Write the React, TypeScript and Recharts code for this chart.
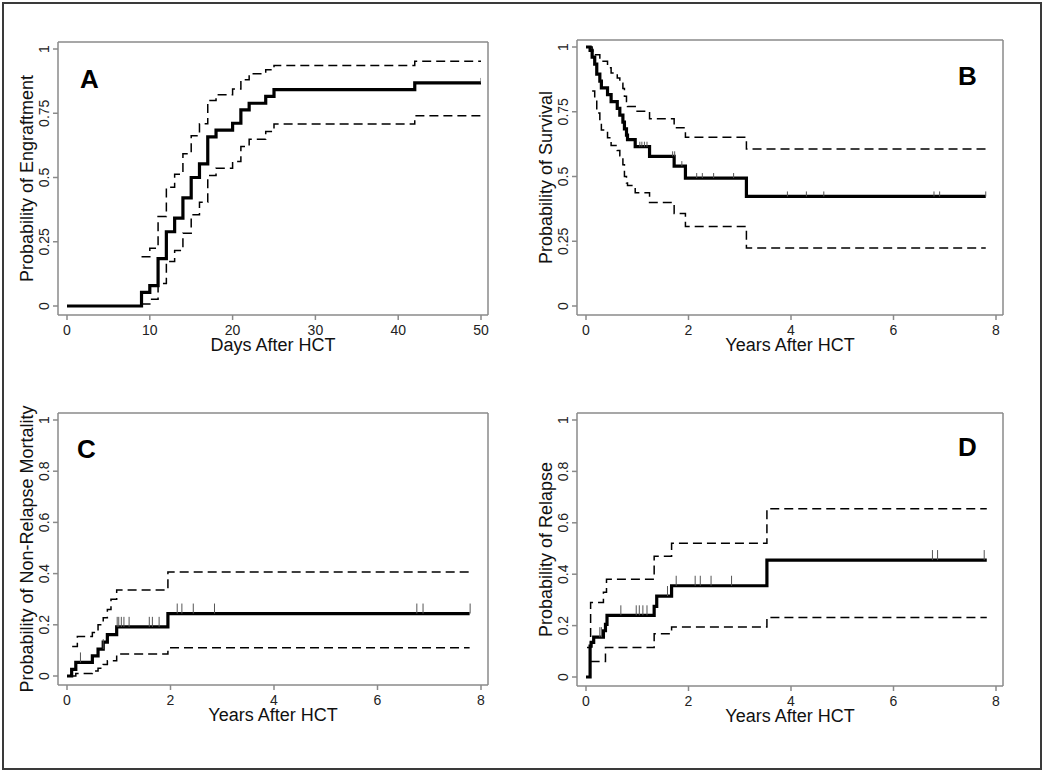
import { ComposedChart, Line, Scatter, XAxis, YAxis } from "recharts";

const FONT = "'Liberation Sans', Arial, Helvetica, sans-serif";
const AXIS = { stroke: "#8a8a8a", strokeWidth: 1.5 };
const X_PAD = { left: 9, right: 7 };
const Y_PAD = { top: 7, bottom: 9 };

type Pt = [number, number];

// A: engraftment (days)
const engraftEst: Pt[] = [
  [0, 0], [9, 0.053], [10, 0.079], [11, 0.184], [12, 0.289], [13, 0.342], [14, 0.421],
  [15, 0.5], [16, 0.553], [17, 0.658], [18, 0.684], [20, 0.711], [21, 0.763], [22, 0.789],
  [24, 0.816], [25, 0.842], [42, 0.868], [50, 0.868],
];
const engraftHi: Pt[] = [
  [9, 0.192], [10, 0.225], [11, 0.348], [12, 0.462], [13, 0.513], [14, 0.592], [15, 0.662],
  [16, 0.709], [17, 0.8], [18, 0.822], [20, 0.844], [21, 0.88], [22, 0.904], [24, 0.919],
  [25, 0.936], [42, 0.952], [50, 0.952],
];
const engraftLo: Pt[] = [
  [9, 0.008], [10, 0.026], [11, 0.088], [12, 0.173], [13, 0.216], [14, 0.283], [15, 0.355],
  [16, 0.404], [17, 0.508], [18, 0.536], [20, 0.562], [21, 0.621], [22, 0.649], [24, 0.679],
  [25, 0.708], [42, 0.74], [50, 0.74],
];
const engraftCens: Pt[] = [[50, 0.868]];

// B: survival (years)
const survEst: Pt[] = [
  [0, 1], [0.08, 0.987], [0.12, 0.961], [0.17, 0.934], [0.21, 0.895], [0.27, 0.868], [0.3, 0.842],
  [0.42, 0.816], [0.49, 0.789], [0.61, 0.763], [0.66, 0.737], [0.72, 0.71], [0.75, 0.684],
  [0.79, 0.66], [0.81, 0.642], [0.96, 0.615], [1.24, 0.578], [1.72, 0.54], [1.94, 0.494],
  [3.13, 0.423], [7.8, 0.423],
];
const survHi: Pt[] = [
  [0.05, 1], [0.12, 0.985], [0.17, 0.97], [0.27, 0.945], [0.42, 0.92], [0.49, 0.9], [0.61, 0.88],
  [0.66, 0.86], [0.72, 0.84], [0.75, 0.81], [0.79, 0.79], [0.81, 0.77], [0.96, 0.752],
  [1.24, 0.723], [1.72, 0.688], [1.94, 0.652], [3.13, 0.606], [7.8, 0.606],
];
const survLo: Pt[] = [
  [0.12, 0.83], [0.17, 0.8], [0.21, 0.745], [0.27, 0.71], [0.3, 0.68], [0.42, 0.65], [0.49, 0.62],
  [0.61, 0.6], [0.66, 0.58], [0.72, 0.545], [0.75, 0.5], [0.79, 0.475], [0.81, 0.465],
  [0.96, 0.437], [1.24, 0.4], [1.72, 0.357], [1.94, 0.307], [3.13, 0.224], [7.8, 0.224],
];
const survCens: Pt[] = [
  [1.05, 0.615], [1.09, 0.615], [1.14, 0.615], [1.19, 0.615], [1.69, 0.578], [1.73, 0.578],
  [1.87, 0.54], [2.16, 0.494], [2.27, 0.494], [2.49, 0.494], [2.88, 0.494], [3.93, 0.423],
  [4.3, 0.423], [4.64, 0.423], [6.79, 0.423], [6.9, 0.423], [7.8, 0.423],
];

// C: non-relapse mortality
const nrmEst: Pt[] = [
  [0, 0], [0.09, 0.026], [0.17, 0.053], [0.49, 0.079], [0.6, 0.105], [0.7, 0.132],
  [0.78, 0.162], [0.96, 0.192], [1.95, 0.244], [7.78, 0.244],
];
const nrmHi: Pt[] = [
  [0.1, 0.115], [0.2, 0.154], [0.49, 0.17], [0.6, 0.2], [0.7, 0.228], [0.78, 0.26],
  [0.85, 0.3], [0.96, 0.336], [1.95, 0.406], [7.78, 0.406],
];
const nrmLo: Pt[] = [
  [0.1, 0.0], [0.17, 0.01], [0.49, 0.02], [0.6, 0.03], [0.7, 0.045], [0.78, 0.06],
  [0.96, 0.086], [1.95, 0.11], [7.78, 0.11],
];
const nrmCens: Pt[] = [
  [0.26, 0.053], [0.7, 0.105], [0.97, 0.192], [1.0, 0.192], [1.05, 0.192], [1.1, 0.192],
  [1.2, 0.192], [1.59, 0.192], [1.65, 0.192], [1.78, 0.192], [2.13, 0.244], [2.22, 0.244],
  [2.44, 0.244], [2.85, 0.244], [6.76, 0.244], [6.88, 0.244], [7.79, 0.244],
];

// D: relapse
const relEst: Pt[] = [
  [0, 0], [0.08, 0.12], [0.1, 0.135], [0.15, 0.155], [0.34, 0.18], [0.38, 0.205], [0.41, 0.24],
  [1.33, 0.275], [1.38, 0.315], [1.67, 0.355], [3.53, 0.455], [7.82, 0.455],
];
const relHi: Pt[] = [
  [0.02, 0.115], [0.09, 0.29], [0.34, 0.33], [0.4, 0.38], [1.33, 0.47], [1.67, 0.52],
  [3.53, 0.655], [7.82, 0.655],
];
const relLo: Pt[] = [
  [0.09, 0.06], [0.38, 0.115], [1.33, 0.168], [1.67, 0.195], [3.53, 0.232], [7.82, 0.232],
];
const relCens: Pt[] = [
  [0.27, 0.155], [0.3, 0.155], [0.68, 0.24], [0.98, 0.24], [1.04, 0.24], [1.11, 0.24],
  [1.19, 0.24], [1.59, 0.315], [1.76, 0.355], [2.13, 0.355], [2.23, 0.355], [2.44, 0.355],
  [2.84, 0.355], [6.76, 0.455], [6.86, 0.455], [7.77, 0.455],
];

const quarterTicks = [0, 0.25, 0.5, 0.75, 1];
const fifthTicks = [0, 0.2, 0.4, 0.6, 0.8, 1];
const dayTicks = [0, 10, 20, 30, 40, 50];
const yearTicks = [0, 2, 4, 6, 8];

const toRows = (pts: Pt[]) => pts.map(([t, v]) => ({ t, v }));

function YTick(props: any) {
  const { x, y, payload } = props;
  return (
    <text
      x={x}
      y={y}
      transform={`rotate(-90 ${x} ${y})`}
      textAnchor="middle"
      fontSize={14}
      fontFamily={FONT}
      fill="#222"
    >
      {String(payload.value)}
    </text>
  );
}

const censorMark = (h: number) => (props: any) => (
  <line
    x1={props.cx}
    x2={props.cx}
    y1={props.cy}
    y2={props.cy - h}
    stroke="#555"
    strokeWidth={1}
  />
);

interface PanelProps {
  left: number;
  top: number;
  height: number;
  margin: { top: number; right: number; bottom: number; left: number };
  xDomain: [number, number];
  xTicks: number[];
  yTicks: number[];
  xTitle: string;
  yTitle: string;
  est: Pt[];
  hi: Pt[];
  lo: Pt[];
  cens: Pt[];
  censH: number;
}

function Panel(p: PanelProps) {
  return (
    <div style={{ position: "absolute", left: p.left, top: p.top }}>
      <ComposedChart width={520} height={p.height} margin={p.margin}>
        <XAxis
          dataKey="t"
          type="number"
          domain={p.xDomain}
          ticks={p.xTicks}
          interval={0}
          allowDataOverflow
          padding={X_PAD}
          axisLine={AXIS}
          tickLine={AXIS}
          tickSize={5}
          tickMargin={5}
          tick={{ fontSize: 14, fill: "#222", fontFamily: FONT }}
          height={55}
          label={{
            value: p.xTitle,
            position: "insideBottom",
            offset: 19,
            fontSize: 18,
            fill: "#111",
            fontFamily: FONT,
          }}
        />
        <YAxis
          type="number"
          domain={[0, 1]}
          ticks={p.yTicks}
          interval={0}
          padding={Y_PAD}
          width={58}
          axisLine={AXIS}
          tickLine={AXIS}
          tickSize={5}
          tickMargin={4}
          tick={<YTick />}
          label={{
            value: p.yTitle,
            angle: -90,
            position: "insideLeft",
            offset: 27,
            style: { textAnchor: "middle" },
            fontSize: 18,
            fill: "#111",
            fontFamily: FONT,
          }}
        />
        {/* top and right edges of the plot box */}
        <XAxis
          xAxisId="top"
          dataKey="t"
          orientation="top"
          type="number"
          domain={p.xDomain}
          allowDataOverflow
          padding={X_PAD}
          tick={false}
          tickLine={false}
          height={1}
          axisLine={AXIS}
        />
        <YAxis
          yAxisId="right"
          orientation="right"
          type="number"
          domain={[0, 1]}
          padding={Y_PAD}
          tick={false}
          tickLine={false}
          width={1}
          axisLine={AXIS}
        />
        <Line
          xAxisId="top"
          yAxisId="right"
          data={toRows(p.hi)}
          dataKey="v"
          type="stepAfter"
          stroke="#000"
          strokeWidth={1.5}
          strokeDasharray="9 5"
          dot={false}
          activeDot={false}
          isAnimationActive={false}
        />
        <Line
          data={toRows(p.lo)}
          dataKey="v"
          type="stepAfter"
          stroke="#000"
          strokeWidth={1.5}
          strokeDasharray="9 5"
          dot={false}
          activeDot={false}
          isAnimationActive={false}
        />
        <Scatter
          data={toRows(p.cens)}
          dataKey="v"
          shape={censorMark(p.censH)}
          isAnimationActive={false}
        />
        <Line
          data={toRows(p.est)}
          dataKey="v"
          type="stepAfter"
          stroke="#000"
          strokeWidth={3.2}
          dot={false}
          activeDot={false}
          isAnimationActive={false}
        />
      </ComposedChart>
    </div>
  );
}

const letterStyle = (left: number, top: number): React.CSSProperties => ({
  position: "absolute",
  left,
  top,
  fontFamily: FONT,
  fontWeight: "bold",
  fontSize: 26,
  lineHeight: "26px",
  color: "#000",
});

export default function App() {
  return (
    <div
      style={{
        position: "absolute",
        left: 0,
        top: 0,
        width: 1050,
        height: 774,
        background: "#fff",
        fontFamily: FONT,
      }}
    >
      <div
        style={{
          position: "absolute",
          left: 2,
          top: 2,
          width: 1036,
          height: 764,
          border: "2px solid #3a3a3a",
        }}
      />
      <Panel
        left={0}
        top={0}
        height={370}
        margin={{ top: 41, right: 31, bottom: 0, left: 0 }}
        xDomain={[0, 50]}
        xTicks={dayTicks}
        yTicks={quarterTicks}
        xTitle="Days After HCT"
        yTitle="Probability of Engraftment"
        est={engraftEst}
        hi={engraftHi}
        lo={engraftLo}
        cens={engraftCens}
        censH={5}
      />
      <Panel
        left={519}
        top={0}
        height={370}
        margin={{ top: 39, right: 35, bottom: 0, left: 0 }}
        xDomain={[0, 8]}
        xTicks={yearTicks}
        yTicks={quarterTicks}
        xTitle="Years After HCT"
        yTitle="Probability of Survival"
        est={survEst}
        hi={survHi}
        lo={survLo}
        cens={survCens}
        censH={5}
      />
      <Panel
        left={0}
        top={370}
        height={400}
        margin={{ top: 42, right: 31, bottom: 30, left: 0 }}
        xDomain={[0, 8]}
        xTicks={yearTicks}
        yTicks={fifthTicks}
        xTitle="Years After HCT"
        yTitle="Probability of Non-Relapse Mortality"
        est={nrmEst}
        hi={nrmHi}
        lo={nrmLo}
        cens={nrmCens}
        censH={10}
      />
      <Panel
        left={519}
        top={370}
        height={400}
        margin={{ top: 42, right: 35, bottom: 29, left: 0 }}
        xDomain={[0, 8]}
        xTicks={yearTicks}
        yTicks={fifthTicks}
        xTitle="Years After HCT"
        yTitle="Probability of Relapse"
        est={relEst}
        hi={relHi}
        lo={relLo}
        cens={relCens}
        censH={10}
      />
      <div style={letterStyle(80, 66)}>A</div>
      <div style={letterStyle(958, 63)}>B</div>
      <div style={letterStyle(77, 436)}>C</div>
      <div style={letterStyle(958, 434)}>D</div>
    </div>
  );
}
